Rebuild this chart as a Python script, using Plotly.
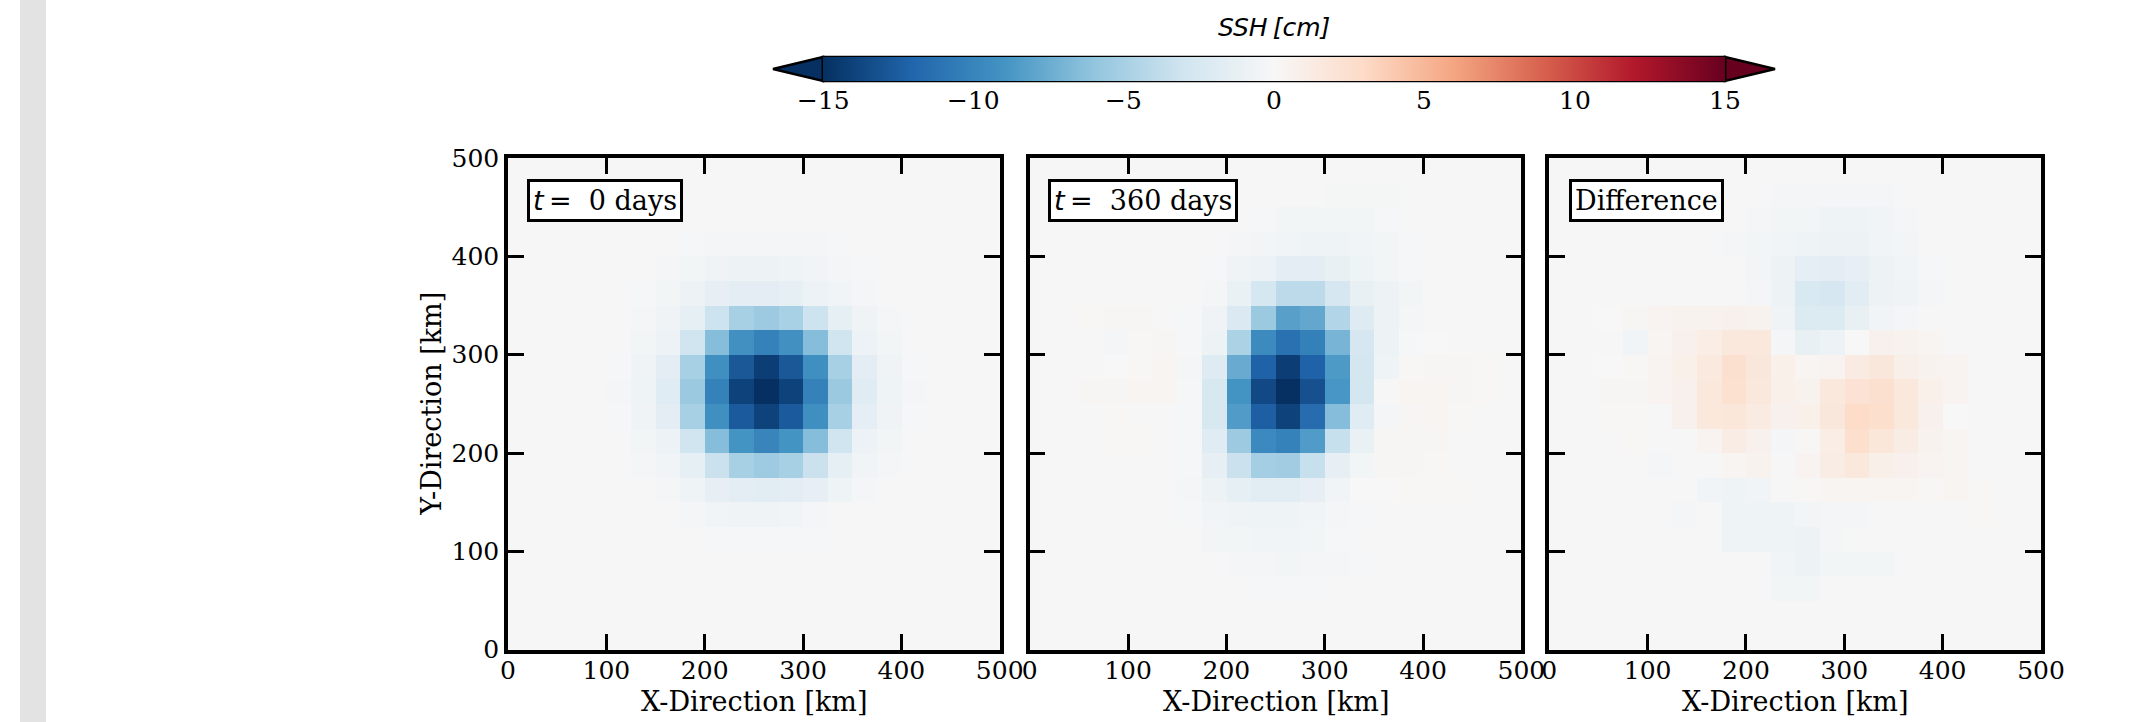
import plotly.graph_objects as go

# ------------------------------------------------------------------ data
X_TICKS = [0, 100, 200, 300, 400, 500]
Y_TICKS = [0, 100, 200, 300, 400, 500]
CBAR_TICKS = [-15, -10, -5, 0, 5, 10, 15]
CBAR_TEXT = ["\u221215", "\u221210", "\u22125", "0", "5", "10", "15"]
ZMIN, ZMAX = -15, 15
CELL_KM = 25
PANEL_LABELS = [
    '<span style="font-family:DejaVu Sans"><i>t</i>\u2009=</span>\u00a0\u00a00 days',
    '<span style="font-family:DejaVu Sans"><i>t</i>\u2009=</span>\u00a0\u00a0360 days',
    'Difference',
]
X_TITLE = "X-Direction [km]"
Y_TITLE = "Y-Direction [km]"
CBAR_TITLE = "<i>SSH</i>\u2009<i>[cm]</i>"

# SSH [cm]; rows listed from the northern (top, y=475-500 km) row to the southern row
SSH_T0 = [
    [-.1,-.1,-.1,-.1,-.1,-.1,-.1,-.1,-.1,-.1,-.1,-.1,-.1,-.1,-.1,-.1,-.1,-.1,-.1,-.1],
    [-.1,-.1,-.1,-.1,-.1,-.1,-.1,-.1,-.1,-.1,-.1,-.1,-.1,-.1,-.1,-.1,-.1,-.1,-.1,-.1],
    [-.1,-.1,-.1,-.1,-.1,-.1,-.1,-.1,-.1,-.1,-.1,-.1,-.1,-.1,-.1,-.1,-.1,-.1,-.1,-.1],
    [-.1,-.1,-.1,-.1,-.1,-.1,-.1,-.2,-.3,-.3,-.3,-.3,-.3,-.2,-.1,-.1,-.1,-.1,-.1,-.1],
    [-.1,-.1,-.1,-.1,-.1,-.1,-.3,-.4,-.6,-.8,-.8,-.7,-.5,-.3,-.2,-.1,-.1,-.1,-.1,-.1],
    [-.1,-.1,-.1,-.1,-.1,-.2,-.4,-.8,-1.3,-1.6,-1.6,-1.4,-.9,-.5,-.3,-.1,-.1,-.1,-.1,-.1],
    [-.1,-.1,-.1,-.1,-.1,-.3,-.6,-1.4,-3.2,-5.0,-5.5,-4.9,-3.2,-1.4,-.6,-.3,-.1,-.1,-.1,-.1],
    [-.1,-.1,-.1,-.1,-.1,-.4,-.9,-3.0,-6.5,-9.2,-10.2,-9.2,-6.5,-3.0,-.9,-.4,-.1,-.1,-.1,-.1],
    [-.1,-.1,-.1,-.1,-.2,-.6,-1.6,-5.0,-9.3,-12.8,-14.2,-12.8,-9.3,-5.0,-1.6,-.6,-.2,-.1,-.1,-.1],
    [-.1,-.1,-.1,-.1,-.3,-.7,-1.9,-5.6,-10.2,-14.0,-15.3,-14.0,-10.2,-5.6,-1.9,-.7,-.3,-.1,-.1,-.1],
    [-.1,-.1,-.1,-.1,-.2,-.6,-1.6,-5.0,-9.3,-12.6,-14.0,-12.6,-9.3,-5.0,-1.5,-.6,-.2,-.1,-.1,-.1],
    [-.1,-.1,-.1,-.1,-.1,-.4,-.9,-3.0,-6.5,-9.0,-10.0,-9.0,-6.5,-3.0,-.9,-.4,-.1,-.1,-.1,-.1],
    [-.1,-.1,-.1,-.1,-.1,-.3,-.5,-1.4,-3.3,-5.0,-5.4,-5.0,-3.3,-1.4,-.5,-.3,-.1,-.1,-.1,-.1],
    [-.1,-.1,-.1,-.1,-.1,-.1,-.3,-.7,-1.3,-1.6,-1.7,-1.6,-1.3,-.7,-.3,-.1,-.1,-.1,-.1,-.1],
    [-.1,-.1,-.1,-.1,-.1,-.1,-.1,-.3,-.5,-.6,-.6,-.5,-.3,-.1,-.1,-.1,-.1,-.1,-.1,-.1],
    [-.1,-.1,-.1,-.1,-.1,-.1,-.1,-.1,-.2,-.2,-.2,-.2,-.2,-.1,-.1,-.1,-.1,-.1,-.1,-.1],
    [-.1,-.1,-.1,-.1,-.1,-.1,-.1,-.1,-.1,-.1,-.1,-.1,-.1,-.1,-.1,-.1,-.1,-.1,-.1,-.1],
    [-.1,-.1,-.1,-.1,-.1,-.1,-.1,-.1,-.1,-.1,-.1,-.1,-.1,-.1,-.1,-.1,-.1,-.1,-.1,-.1],
    [-.1,-.1,-.1,-.1,-.1,-.1,-.1,-.1,-.1,-.1,-.1,-.1,-.1,-.1,-.1,-.1,-.1,-.1,-.1,-.1],
    [-.1,-.1,-.1,-.1,-.1,-.1,-.1,-.1,-.1,-.1,-.1,-.1,-.1,-.1,-.1,-.1,-.1,-.1,-.1,-.1],
]

SSH_T360 = [
    [-.1,-.1,-.1,-.1,-.1,-.1,-.1,-.1,-.1,-.1,-.1,-.1,-.1,-.1,-.1,-.1,-.1,-.1,-.1,-.1],
    [-.1,-.1,-.1,-.1,-.1,-.1,-.1,-.1,-.1,-.1,-.1,-.1,-.25,-.25,-.25,-.1,-.1,-.1,-.1,-.1],
    [-.1,-.1,-.1,-.1,-.1,-.1,-.1,-.1,-.1,-.2,-.4,-.4,-.4,-.4,-.2,-.1,-.1,-.1,-.1,-.1],
    [-.1,-.1,-.1,-.1,-.1,-.1,-.1,-.1,-.3,-.4,-.5,-.7,-.7,-.5,-.4,-.2,-.1,-.1,-.1,-.1],
    [-.1,-.1,-.1,-.1,-.1,-.1,-.1,-.2,-.6,-.9,-1.6,-1.6,-1.1,-.7,-.4,-.2,-.1,-.1,-.1,-.1],
    [-.1,-.1,-.1,-.1,-.1,-.1,-.1,-.3,-1.0,-2.7,-4.0,-4.0,-2.6,-1.2,-.8,-.4,-.1,-.1,-.1,-.1],
    [-.1,-.1,.1,.2,.2,-.1,-.2,-.6,-2.3,-5.6,-8.2,-7.8,-4.5,-2.0,-.8,-.3,-.1,-.1,-.1,-.1],
    [-.1,-.1,-.1,-.3,.1,.2,-.2,-.8,-4.8,-9.6,-11.3,-10.3,-7.0,-2.6,-.8,-.2,0,-.1,-.1,-.1],
    [-.1,-.1,-.1,0,.1,.3,-.3,-2.0,-7.6,-12.2,-14.2,-12.2,-8.6,-2.8,-.7,.1,.2,.2,.1,-.1],
    [-.1,-.1,.2,.2,.3,.3,-.2,-2.5,-9.0,-13.6,-15.3,-13.2,-8.8,-2.8,-.1,.3,.3,.2,.1,-.1],
    [-.1,-.1,-.1,.1,-.1,-.1,-.2,-2.5,-8.5,-12.4,-14.0,-11.6,-6.5,-1.8,-.3,.2,.3,.1,-.1,-.1],
    [-.1,-.1,-.1,.1,.1,-.1,-.2,-1.8,-5.5,-9.7,-10.2,-8.5,-3.5,-1.0,.2,.2,.2,-.1,-.1,-.1],
    [-.1,-.1,-.1,-.1,-.1,-.1,-.2,-1.3,-3.3,-5.2,-5.3,-3.5,-1.3,-.4,.2,.2,.1,-.1,-.1,-.1],
    [-.1,-.1,-.1,-.1,-.1,-.1,-.3,-.8,-1.4,-1.7,-1.7,-1.3,-.5,0,0,.1,.1,.1,-.1,-.1],
    [-.1,-.1,-.1,-.1,-.1,-.1,-.2,-.5,-.6,-.7,-.7,-.5,-.3,-.2,-.1,-.1,-.1,-.1,-.1,-.1],
    [-.1,-.1,-.1,-.1,-.1,-.1,-.1,-.4,-.4,-.5,-.5,-.4,-.2,-.1,-.1,-.1,-.1,-.1,-.1,-.1],
    [-.1,-.1,-.1,-.1,-.1,-.1,-.1,-.1,-.3,-.3,-.4,-.3,-.3,-.2,-.1,-.1,-.1,-.1,-.1,-.1],
    [-.1,-.1,-.1,-.1,-.1,-.1,-.1,-.1,-.1,-.2,-.2,-.2,-.1,-.1,-.1,-.1,-.1,-.1,-.1,-.1],
    [-.1,-.1,-.1,-.1,-.1,-.1,-.1,-.1,-.1,-.1,-.1,-.1,-.1,-.1,-.1,-.1,-.1,-.1,-.1,-.1],
    [-.1,-.1,-.1,-.1,-.1,-.1,-.1,-.1,-.1,-.1,-.1,-.1,-.1,-.1,-.1,-.1,-.1,-.1,-.1,-.1],
]

SSH_DIFF = [
    [-.1,-.1,-.1,-.1,-.1,-.1,-.1,-.1,-.1,-.1,-.1,-.1,-.1,-.1,-.1,-.1,-.1,-.1,-.1,-.1],
    [-.1,-.1,-.1,-.1,-.1,-.1,-.1,-.1,-.1,-.3,-.3,-.3,-.3,-.3,-.1,-.1,-.1,-.1,-.1,-.1],
    [-.1,-.1,-.1,-.1,-.1,-.1,-.1,-.1,-.3,-.4,-.4,-.7,-.7,-.5,-.3,-.1,-.1,-.1,-.1,-.1],
    [-.1,-.1,-.1,-.1,-.1,-.1,-.1,-.3,-.4,-.5,-.7,-.8,-.8,-.5,-.4,-.1,-.1,-.1,-.1,-.1],
    [-.1,-.1,-.1,-.1,-.1,-.1,-.1,-.1,-.4,-.8,-1.5,-1.6,-1.3,-.8,-.5,-.2,-.1,-.1,-.1,-.1],
    [-.1,-.1,-.1,-.1,-.1,-.1,-.1,-.1,-.3,-.8,-2.4,-2.6,-1.7,-.8,-.6,-.3,-.1,-.1,-.1,-.1],
    [-.1,-.1,0,.2,.4,.5,.5,.7,.5,-.6,-2.1,-2.1,-1.2,-.5,-.3,-.1,-.1,-.1,-.1,-.1],
    [-.1,-.1,-.1,-.5,.3,.7,1.1,1.6,1.6,-.3,-1.2,-.9,0,.7,.5,.3,-.1,-.1,-.1,-.1],
    [-.1,-.1,0,.1,.4,.8,1.5,2.5,1.7,.8,.3,.4,1.3,1.7,.9,.5,.4,-.1,-.1,-.1],
    [-.1,-.1,.2,.2,.4,.7,1.6,2.4,1.6,.8,.5,1.6,2.2,2.5,1.6,.8,.4,-.1,-.1,-.1],
    [-.1,-.1,.1,.1,-.1,.7,1.6,1.8,1.3,.7,.8,1.7,2.8,2.6,1.6,.7,0,-.1,-.1,-.1],
    [-.1,-.1,-.1,.1,-.1,-.1,.4,1.2,.7,-.3,.1,1.1,2.6,1.8,1.2,.5,.3,-.1,-.1,-.1],
    [-.1,-.1,-.1,-.1,-.3,-.1,-.1,.3,.5,-.1,.4,1.2,1.6,.9,.7,.4,.3,-.1,-.1,-.1],
    [-.1,-.1,-.1,-.1,-.1,-.1,-.5,-.7,-.5,-.1,.1,.3,.3,.3,.3,.1,.3,.1,-.1,-.1],
    [-.1,-.1,-.1,-.1,-.1,-.3,-.1,-.7,-.7,-.7,-.4,-.3,-.3,-.1,-.1,-.1,-.1,.1,-.1,-.1],
    [-.1,-.1,-.1,-.1,-.1,-.1,-.1,-.7,-.7,-.7,-.8,-.3,-.1,-.1,-.1,-.1,-.1,-.1,-.1,-.1],
    [-.1,-.1,-.1,-.1,-.1,-.1,-.1,-.1,-.1,-.5,-.8,-.4,-.4,-.4,-.1,-.1,-.1,-.1,-.1,-.1],
    [-.1,-.1,-.1,-.1,-.1,-.1,-.1,-.1,-.1,-.4,-.4,-.1,-.1,-.1,-.1,-.1,-.1,-.1,-.1,-.1],
    [-.1,-.1,-.1,-.1,-.1,-.1,-.1,-.1,-.1,-.1,-.1,-.1,-.1,-.1,-.1,-.1,-.1,-.1,-.1,-.1],
    [-.1,-.1,-.1,-.1,-.1,-.1,-.1,-.1,-.1,-.1,-.1,-.1,-.1,-.1,-.1,-.1,-.1,-.1,-.1,-.1],
]

# matplotlib RdBu_r anchor colours
RDBU_R = ["#053061", "#2166ac", "#4393c3", "#92c5de", "#d1e5f0", "#f7f7f7",
          "#fddbc7", "#f4a582", "#d6604d", "#b2182b", "#67001f"]

# ------------------------------------------------------------------ layout helpers
W, H = 2130, 722
SERIF = "DejaVu Serif"
SANS = "DejaVu Sans"
TICK_SIZE = 25
TITLE_SIZE = 27
LABEL_SIZE = 27


def fx(p):
    return p / W


def fy(p):
    return 1 - p / H


PANEL_X = [(508, 999.7), (1029.7, 1521.4), (1549.3, 2041)]
PANEL_Y = (158, 649.7)
LABEL_X = [527, 1048, 1569]
LABEL_Y = 179
XTITLE_Y = 701
YTITLE_X = 432

CB_L, CB_R, CB_T, CB_B = 823, 1725, 57, 81
CB_TIP = 50

colorscale = [[i / (len(RDBU_R) - 1), c] for i, c in enumerate(RDBU_R)]

fig = go.Figure()
grids = [SSH_T0, SSH_T360, SSH_DIFF]
for i, g in enumerate(grids):
    sfx = "" if i == 0 else str(i + 1)
    fig.add_trace(go.Heatmap(
        z=g[::-1], x0=CELL_KM / 2, dx=CELL_KM, y0=CELL_KM / 2, dy=CELL_KM,
        coloraxis="coloraxis", zsmooth=False, hoverinfo="skip",
        xaxis="x" + sfx, yaxis="y" + sfx,
    ))

axis_common = dict(
    range=[0, 500], tickvals=X_TICKS, ticks="inside", ticklen=16, tickwidth=3,
    tickcolor="black", showline=True, linewidth=3.5, linecolor="black",
    mirror="ticks", showgrid=False, zeroline=False, automargin=False,
    tickfont=dict(family=SERIF, size=TICK_SIZE, color="black"),
)

layout = dict(
    template="none",
    width=W, height=H, margin=dict(l=0, r=0, t=0, b=0, pad=0, autoexpand=False),
    paper_bgcolor="white", plot_bgcolor="white", showlegend=False,
    coloraxis=dict(
        colorscale=colorscale, cmin=ZMIN, cmax=ZMAX,
        colorbar=dict(
            orientation="h", thickness=CB_B - CB_T, lenmode="pixels", len=CB_R - CB_L,
            xanchor="left", x=fx(CB_L), yanchor="top", y=fy(CB_T),
            xpad=0, ypad=0, outlinewidth=0, borderwidth=0,
            tickvals=CBAR_TICKS, ticks="", showticklabels=False,
        ),
    ),
)

for i in range(3):
    sfx = "" if i == 0 else str(i + 1)
    layout["xaxis" + sfx] = dict(
        axis_common, domain=[fx(PANEL_X[i][0]), fx(PANEL_X[i][1])], anchor="y" + sfx,
        ticklabelstandoff=-4,
    )
    layout["yaxis" + sfx] = dict(
        axis_common, tickvals=Y_TICKS, domain=[fy(PANEL_Y[1]), fy(PANEL_Y[0])],
        anchor="x" + sfx, showticklabels=(i == 0),
    )

fig.update_layout(**layout)

# axis titles
for i in range(3):
    fig.add_annotation(
        x=fx((PANEL_X[i][0] + PANEL_X[i][1]) / 2), y=fy(XTITLE_Y), xref="paper", yref="paper",
        xanchor="center", yanchor="middle", text=X_TITLE, showarrow=False,
        font=dict(family=SERIF, size=TITLE_SIZE, color="black"),
    )
fig.add_annotation(
    x=fx(YTITLE_X), y=fy((PANEL_Y[0] + PANEL_Y[1]) / 2), xref="paper", yref="paper",
    xanchor="center", yanchor="middle", text=Y_TITLE, showarrow=False, textangle=-90,
    font=dict(family=SERIF, size=TITLE_SIZE, color="black"),
)

# panel labels
for i, txt in enumerate(PANEL_LABELS):
    fig.add_annotation(
        x=fx(LABEL_X[i]), y=fy(LABEL_Y), xref="paper", yref="paper",
        xanchor="left", yanchor="top", text=txt, showarrow=False,
        font=dict(family=SERIF, size=LABEL_SIZE, color="black"),
        bgcolor="white", bordercolor="black", borderwidth=3, borderpad=3,
    )

# colorbar title
fig.add_annotation(
    x=fx((CB_L + CB_R) / 2), y=fy(28), xref="paper", yref="paper",
    xanchor="center", yanchor="middle", text=CBAR_TITLE, showarrow=False,
    font=dict(family=SANS, size=25, color="black"),
)

# left grey strip of the page
fig.add_shape(type="rect", xref="paper", yref="paper", x0=fx(20), x1=fx(46), y0=0, y1=1,
              fillcolor="#e3e3e3", line=dict(width=0), layer="below")

# colorbar extension triangles, outline, dashed tick marks and tick labels
ymid = (CB_T + CB_B) / 2
fig.add_shape(type="path", xref="paper", yref="paper",
              path=f"M {fx(CB_L)},{fy(CB_T)} L {fx(CB_L - CB_TIP)},{fy(ymid)} L {fx(CB_L)},{fy(CB_B)} Z",
              fillcolor=RDBU_R[0], line=dict(color="black", width=2.5))
fig.add_shape(type="path", xref="paper", yref="paper",
              path=f"M {fx(CB_R)},{fy(CB_T)} L {fx(CB_R + CB_TIP)},{fy(ymid)} L {fx(CB_R)},{fy(CB_B)} Z",
              fillcolor=RDBU_R[-1], line=dict(color="black", width=2.5))
fig.add_shape(type="rect", xref="paper", yref="paper",
              x0=fx(CB_L), x1=fx(CB_R), y0=fy(CB_B), y1=fy(CB_T),
              line=dict(color="black", width=2.5))
for v, t in zip(CBAR_TICKS, CBAR_TEXT):
    px = CB_L + (v - ZMIN) / (ZMAX - ZMIN) * (CB_R - CB_L)
    fig.add_shape(type="line", xref="paper", yref="paper",
                  x0=fx(px), x1=fx(px), y0=fy(CB_T), y1=fy(CB_B),
                  line=dict(color="black", width=2, dash="5px,3px,7px,3px,6px"))
    fig.add_annotation(x=fx(px), y=fy(100), xref="paper", yref="paper",
                       xanchor="center", yanchor="middle", text=t, showarrow=False,
                       font=dict(family=SERIF, size=TICK_SIZE, color="black"))

fig.write_html("out.html")
